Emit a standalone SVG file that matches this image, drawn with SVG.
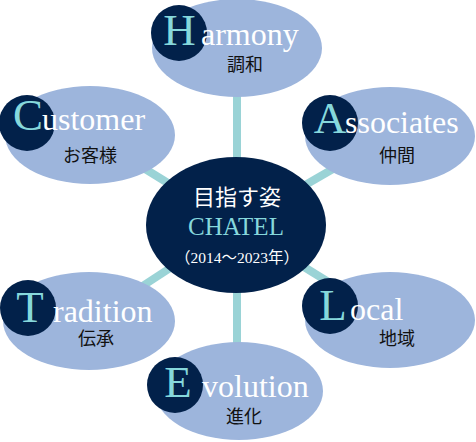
<svg xmlns="http://www.w3.org/2000/svg" width="476" height="442" viewBox="0 0 476 442">
<style>
.conn{stroke:#9ad3d6;stroke-width:8;fill:none}
.oval{fill:#9db5dc}
.dot{fill:#02214a}
.lat{font-family:"Liberation Serif","Times New Roman",serif;fill:#ffffff;font-size:32px}
.big{font-family:"Liberation Serif","Times New Roman",serif;fill:#86d8dc;font-size:45px}
.jp{font-family:"Liberation Serif","Noto Sans CJK JP",serif;fill:#111111;font-size:18px;text-anchor:middle}
.ct{font-family:"Liberation Serif","Noto Sans CJK JP",serif;text-anchor:middle}
</style>
<rect width="476" height="442" fill="#ffffff"/>
<g id="connectors">
<line class="conn" x1="237" y1="225" x2="237" y2="48"/>
<line class="conn" x1="237" y1="225" x2="237" y2="391"/>
<line class="conn" x1="236" y1="225" x2="90" y2="135"/>
<line class="conn" x1="236" y1="225" x2="390" y2="136"/>
<line class="conn" x1="236" y1="225" x2="89" y2="321"/>
<line class="conn" x1="236" y1="225" x2="390" y2="320"/>
</g>
<g id="harmony">
<ellipse class="oval" cx="237" cy="48" rx="85" ry="49"/>
<circle class="dot" cx="179" cy="33" r="28"/>
<text class="big" x="179.5" y="45" text-anchor="middle">H</text>
<text class="lat" x="201" y="45">armony</text>
<text class="jp" x="245" y="71">調和</text>
</g>
<g id="customer">
<ellipse class="oval" cx="90" cy="135" rx="85" ry="49"/>
<circle class="dot" cx="27" cy="123" r="28"/>
<text class="big" x="28" y="130" text-anchor="middle">C</text>
<text class="lat" x="42" y="130">ustomer</text>
<text class="jp" x="90" y="162">お客様</text>
</g>
<g id="associates">
<ellipse class="oval" cx="390" cy="136" rx="85" ry="49"/>
<circle class="dot" cx="330" cy="123" r="28"/>
<text class="big" x="330" y="133" text-anchor="middle">A</text>
<text class="lat" x="345" y="133">ssociates</text>
<text class="jp" x="397" y="162">仲間</text>
</g>
<g id="tradition">
<ellipse class="oval" cx="89" cy="321" rx="86" ry="49"/>
<circle class="dot" cx="28" cy="308" r="28"/>
<text class="big" x="30" y="322" text-anchor="middle">T</text>
<text class="lat" x="53" y="322">radition</text>
<text class="jp" x="96" y="345">伝承</text>
</g>
<g id="local">
<ellipse class="oval" cx="390" cy="320" rx="85" ry="48"/>
<circle class="dot" cx="330" cy="306" r="28"/>
<text class="big" x="333" y="320" text-anchor="middle">L</text>
<text class="lat" x="350" y="320">ocal</text>
<text class="jp" x="397" y="345">地域</text>
</g>
<g id="evolution">
<ellipse class="oval" cx="239" cy="391" rx="84" ry="49"/>
<circle class="dot" cx="175" cy="385" r="28"/>
<text class="big" x="178" y="397" text-anchor="middle">E</text>
<text class="lat" x="202" y="397">volution</text>
<text class="jp" x="244" y="423">進化</text>
</g>
<g id="center">
<ellipse class="dot" cx="236" cy="225" rx="90" ry="68"/>
<text class="ct" x="237" y="205" fill="#ffffff" font-size="22">目指す姿</text>
<text class="ct" x="236" y="235" fill="#86d8dc" font-size="25">CHATEL</text>
<text class="ct" x="237" y="263" fill="#ffffff" font-size="15.5">（2014～2023年）</text>
</g>
</svg>
